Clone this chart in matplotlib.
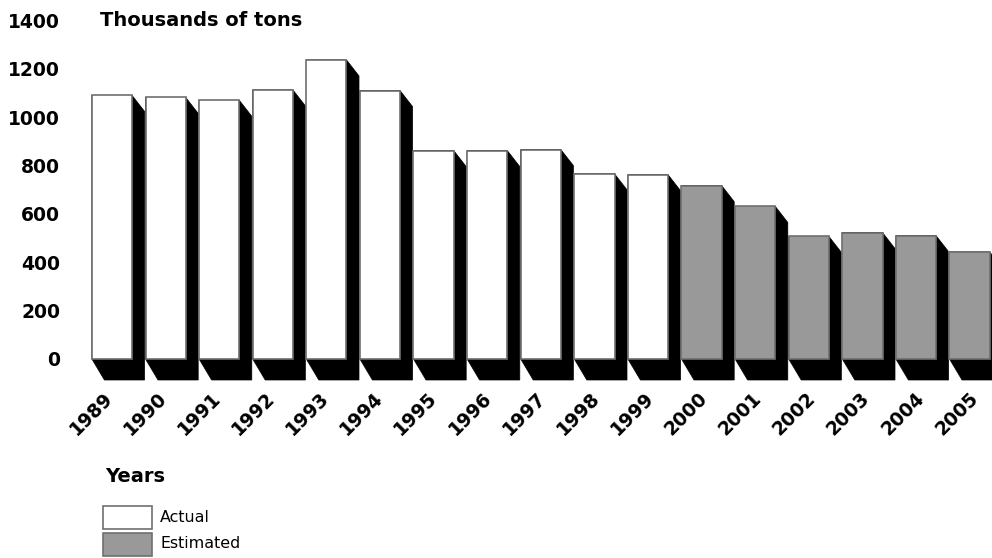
import matplotlib
matplotlib.use("Agg")
import matplotlib.pyplot as plt
from matplotlib.patches import Polygon, Rectangle

years = ["1989", "1990", "1991", "1992", "1993", "1994", "1995", "1996", "1997",
         "1998", "1999", "2000", "2001", "2002", "2003", "2004", "2005"]
values = [1090, 1082, 1070, 1113, 1237, 1110, 862, 862, 866,
          766, 762, 717, 631, 507, 523, 510, 443]
status = ["Actual"] * 11 + ["Estimated"] * 6
y_ticks = [0, 200, 400, 600, 800, 1000, 1200, 1400]

colors = {"Actual": "#ffffff", "Estimated": "#999999"}
edge = "#707070"

W, H = 992, 558
fig = plt.figure(figsize=(W / 100, H / 100), dpi=100)

# axes placement in pixels
px_left, px_right = 70, 992
px_top, px_bot = 20.5, 400.0
ax = fig.add_axes([px_left / W, 1 - px_bot / H, (px_right - px_left) / W, (px_bot - px_top) / H])

pitch = 53.6          # px per category
bar_w = 0.75
x_first_center = 112  # px
ppu = (359 - 20.5) / 1400  # px per value unit

xlim = ((px_left - x_first_center) / pitch, (px_right - x_first_center) / pitch)
ylim = (-(px_bot - 359) / ppu, 1400)
ax.set_xlim(*xlim)
ax.set_ylim(*ylim)

dx = 12.5 / pitch
dy_top = 16 / ppu
dy_bot = 21 / ppu

for i, (v, s) in enumerate(zip(values, status)):
    x0 = i - bar_w / 2
    x1 = i + bar_w / 2
    shadow = Polygon([(x0, v), (x1, v), (x1 + dx, v - dy_top), (x1 + dx, -dy_bot),
                      (x0 + dx, -dy_bot), (x0, 0)], closed=True,
                     facecolor="black", edgecolor="black", lw=0.5, zorder=2)
    ax.add_patch(shadow)
    ax.bar(i, v, width=bar_w, color=colors[s], edgecolor=edge, linewidth=1.2, zorder=3)

for sp in ax.spines.values():
    sp.set_visible(False)
ax.set_yticks(y_ticks)
ax.set_yticklabels([str(t) for t in y_ticks], fontsize=13.5, fontweight="bold",
                   family="DejaVu Sans")
ax.tick_params(axis="y", length=0, pad=7)
ax.set_xticks([])

# rotated year labels
for i, yr in enumerate(years):
    xp = 110 + i * 54.06
    ax.annotate(yr, xy=(xp / W, 1 - 395 / H), xycoords="figure fraction",
                rotation=45, ha="right", va="center", rotation_mode="anchor",
                fontsize=13.5, fontweight="bold", family="DejaVu Sans")

fig.text(100 / W, 1 - 21 / H, "Thousands of tons", fontsize=14, fontweight="bold",
         family="DejaVu Sans", ha="left", va="center")
fig.text(105 / W, 1 - 476 / H, "Years", fontsize=14, fontweight="bold",
         family="DejaVu Sans", ha="left", va="center")

for k, (lab, y0) in enumerate([("Actual", 506), ("Estimated", 533)]):
    r = Rectangle((103 / W, 1 - (y0 + 23) / H), 49 / W, 23 / H, transform=fig.transFigure,
                  facecolor=colors[lab], edgecolor=edge, lw=1.2)
    fig.add_artist(r)
    fig.text(160 / W, 1 - (y0 + 11) / H, lab, fontsize=11.4, family="DejaVu Sans",
             ha="left", va="center")

fig.savefig("out.png", dpi=100)
